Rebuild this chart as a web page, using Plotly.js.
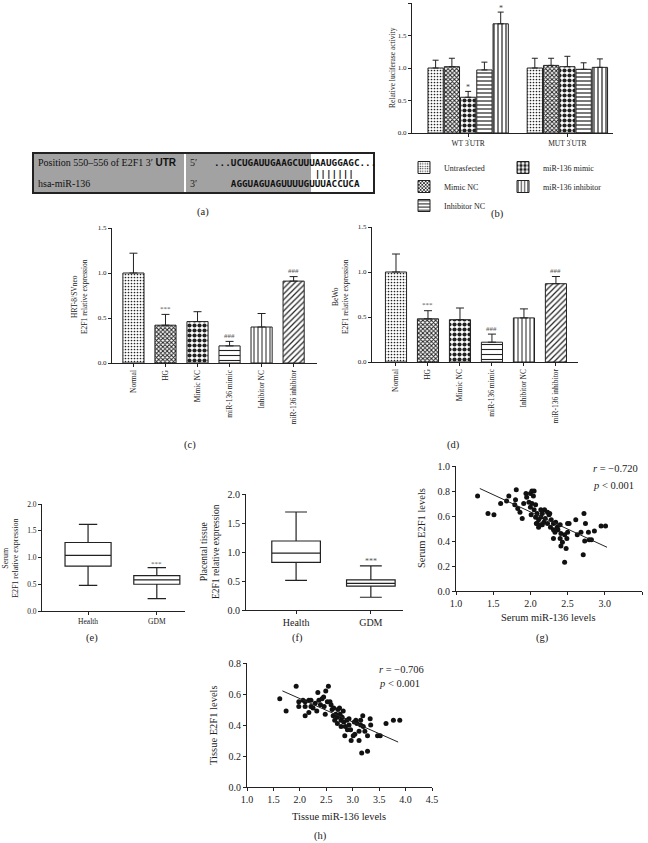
<!DOCTYPE html>
<html><head><meta charset="utf-8">
<script src="https://cdn.plot.ly/plotly-3.0.1.min.js"></script>
<style>html,body{margin:0;padding:0;background:#fff}</style>
</head><body><div id="chart" style="width:648px;height:843px"></div>
<script>
// ================= DATA =================
// (a) binding site
const utrLabel = "Position 550–556 of E2F1 3′ ";
const mirLabel = "hsa-miR-136";
const utrSeq = "UCUGAUUGAAGCUUUAAUGGAGC";
const mirSeq = "AGGUAGUAGUUUUGUUUACCUCA";
const seedPairs = 7;

// (b) luciferase
const groupsB = ["WT 3<sup>′</sup>UTR", "MUT 3<sup>′</sup>UTR"];
const seriesB = ["Untrasfected", "Mimic NC", "miR-136 mimic", "Inhibitor NC", "miR-136 inhibitor"];
const untrasfected = [1.00, 1.00];
const mimicNC = [1.02, 1.04];
const mimic136 = [0.55, 1.02];
const inhibitorNC = [0.97, 0.98];
const inhibitor136 = [1.68, 1.01];
const untrasfectedSD = [0.12, 0.15];
const mimicNCSD = [0.13, 0.11];
const mimic136SD = [0.09, 0.16];
const inhibitorNCSD = [0.12, 0.10];
const inhibitor136SD = [0.18, 0.13];
const sigB = [["", ""], ["", ""], ["*", ""], ["", ""], ["*", ""]];

// (c) HTR-8/SVneo and (d) BeWo
const catsCD = ["Normal", "HG", "Mimic NC", "miR-136 mimic", "Inhibitor NC", "miR-136 inhibitor"];
const htrValues = [1.00, 0.42, 0.46, 0.19, 0.40, 0.91];
const htrSD = [0.22, 0.12, 0.11, 0.05, 0.15, 0.05];
const bewoValues = [1.00, 0.48, 0.47, 0.22, 0.49, 0.87];
const bewoSD = [0.20, 0.09, 0.13, 0.09, 0.10, 0.08];
const sigCD = ["", "***", "", "###", "", "###"];

// (e) serum, (f) placental tissue box plots
const boxCats = ["Health", "GDM"];
const serumMin = [0.48, 0.23];
const serumQ1 = [0.84, 0.50];
const serumMedian = [1.04, 0.58];
const serumQ3 = [1.28, 0.66];
const serumMax = [1.62, 0.81];
const tissueMin = [0.51, 0.22];
const tissueQ1 = [0.82, 0.41];
const tissueMedian = [0.98, 0.46];
const tissueQ3 = [1.19, 0.52];
const tissueMax = [1.69, 0.76];
const sigBox = ["", "***"];

// (g) serum correlation
const serumMiR = [1.29,1.43,1.51,1.60,1.68,1.71,1.81,1.80,1.79,1.83,1.86,1.89,1.91,1.94,1.95,1.98,2.00,2.02,2.05,2.04,2.00,2.02,2.07,2.05,2.01,2.07,2.09,2.11,2.08,2.14,2.18,2.16,2.23,2.20,2.25,2.14,2.19,2.28,2.31,2.27,2.34,2.36,2.40,2.33,2.37,2.41,2.31,2.40,2.46,2.43,2.49,2.50,2.50,2.52,2.61,2.63,2.68,2.41,2.48,2.46,2.72,2.74,2.73,2.78,2.79,2.82,2.86,2.71,2.95,3.01,2.23,2.26,2.16,2.11,2.31,2.09,2.14];
const serumE2F1 = [0.76,0.62,0.61,0.70,0.72,0.76,0.81,0.73,0.69,0.66,0.63,0.58,0.70,0.78,0.75,0.71,0.78,0.80,0.80,0.76,0.67,0.70,0.69,0.65,0.61,0.59,0.62,0.57,0.54,0.59,0.55,0.53,0.54,0.58,0.61,0.65,0.65,0.57,0.54,0.51,0.55,0.51,0.53,0.47,0.49,0.46,0.42,0.42,0.45,0.39,0.42,0.47,0.54,0.54,0.57,0.45,0.47,0.36,0.34,0.23,0.62,0.54,0.40,0.47,0.41,0.41,0.48,0.29,0.52,0.52,0.63,0.62,0.62,0.51,0.49,0.54,0.53];
const serumFitX = [1.32, 3.03];
const serumFitY = [0.82, 0.35];
const serumStats = ["<i>r</i> = −0.720", "<i>p</i> &lt; 0.001"];

// (h) tissue correlation
const tissueMiR = [1.62,1.74,1.93,1.98,1.98,2.06,2.10,2.10,2.10,2.17,2.21,2.21,2.17,2.25,2.29,2.32,2.34,2.36,2.39,2.42,2.45,2.46,2.49,2.54,2.48,2.52,2.57,2.59,2.61,2.64,2.63,2.66,2.68,2.71,2.72,2.76,2.78,2.75,2.80,2.82,2.83,2.86,2.89,2.85,2.90,2.93,2.96,2.97,3.01,3.04,3.06,3.08,3.12,3.12,3.15,3.17,3.19,3.20,3.23,3.28,3.28,3.33,3.34,3.47,3.52,3.63,3.77,3.89,2.93,3.03,2.78,2.71,3.15];
const tissueE2F1 = [0.57,0.49,0.65,0.55,0.52,0.56,0.55,0.52,0.46,0.56,0.56,0.52,0.48,0.51,0.54,0.49,0.61,0.56,0.53,0.57,0.58,0.52,0.62,0.65,0.47,0.55,0.55,0.53,0.50,0.51,0.46,0.43,0.47,0.45,0.50,0.47,0.43,0.51,0.45,0.49,0.42,0.39,0.43,0.33,0.37,0.40,0.37,0.30,0.33,0.34,0.43,0.41,0.36,0.30,0.40,0.22,0.46,0.39,0.36,0.33,0.23,0.44,0.40,0.33,0.33,0.41,0.43,0.43,0.44,0.42,0.39,0.41,0.43];
const tissueFitX = [1.67, 3.86];
const tissueFitY = [0.62, 0.29];
const tissueStats = ["<i>r</i> = −0.706", "<i>p</i> &lt; 0.001"];

// ================= STYLE / LAYOUT HELPERS =================
const W = 648, H = 843;
const SERIF = '"Liberation Serif", "Times New Roman", serif';
const INK = '#222';
const fx = p => p / W;
const fy = p => 1 - p / H;
const xdom = (a, b) => [a / W, b / W];
const ydom = (top, bottom) => [1 - bottom / H, 1 - top / H];

function ax(extra, fs) {
  return Object.assign({
    showline: true, linecolor: INK, linewidth: 1, mirror: false,
    ticks: 'outside', ticklen: 3, tickwidth: 1, tickcolor: INK,
    showgrid: false, zeroline: false, fixedrange: true,
    tickfont: { family: SERIF, size: fs || 7, color: INK }
  }, extra);
}
const annotations = [];
const shapes = [];
function txt(x, y, text, o) {
  o = o || {};
  annotations.push(Object.assign({
    xref: 'paper', yref: 'paper', x: fx(x), y: fy(y), text: text, showarrow: false,
    xanchor: 'center', yanchor: 'middle',
    font: { family: SERIF, size: o.size || 10, color: o.color || INK }
  }, o.extra || {}));
}

// ================= TRACES =================
const traces = [];

// (b)
const dataB = [untrasfected, mimicNC, mimic136, inhibitorNC, inhibitor136];
const sdB = [untrasfectedSD, mimicNCSD, mimic136SD, inhibitorNCSD, inhibitor136SD];
const patB = [
  { shape: '.', size: 3, solidity: 0.25 },
  { shape: 'x', size: 3, solidity: 0.55 },
  { shape: '.', size: 5, solidity: 0.55 },
  { shape: '-', size: 4, solidity: 0.3 },
  { shape: '|', size: 4, solidity: 0.3 }
];
const legendOf = ['legend', 'legend', 'legend2', 'legend', 'legend2'];
const rankB = [1, 2, 1, 3, 2];
seriesB.forEach((name, i) => {
  traces.push({
    type: 'bar', name: name, x: groupsB, y: dataB[i], xaxis: 'x', yaxis: 'y',
    legend: legendOf[i], legendrank: rankB[i],
    marker: { color: 'white', line: { color: INK, width: 1 },
      pattern: Object.assign({ fgcolor: INK, bgcolor: 'white', fillmode: 'replace' }, patB[i]) },
    error_y: { type: 'data', symmetric: false, array: sdB[i], arrayminus: sdB[i].map(() => 0),
      color: INK, thickness: 1, width: 3 },
    hoverinfo: 'skip'
  });
});
const BARGAP_B = 0.18;
seriesB.forEach((name, i) => {
  const slot = (1 - BARGAP_B) / seriesB.length;
  const off = -(1 - BARGAP_B) / 2 + slot * (i + 0.5);
  sigB[i].forEach((s, g) => {
    if (!s) return;
    annotations.push({ xref: 'x', yref: 'y', x: g + off, y: dataB[i][g] + sdB[i][g] + 0.06,
      text: s, showarrow: false, font: { family: SERIF, size: 8, color: '#444' } });
  });
});

// (c), (d)
const patCD = {
  shape: ['.', 'x', '.', '-', '|', '/'],
  size: [3, 3, 5, 5, 4, 4],
  solidity: [0.25, 0.55, 0.55, 0.22, 0.25, 0.3],
  fgcolor: INK, bgcolor: 'white', fillmode: 'replace'
};
[[htrValues, htrSD, 'x2', 'y2'], [bewoValues, bewoSD, 'x3', 'y3']].forEach(([vals, sd, xa, ya]) => {
  traces.push({
    type: 'bar', x: catsCD, y: vals, xaxis: xa, yaxis: ya, width: 0.66, showlegend: false,
    marker: { color: 'white', line: { color: INK, width: 1 }, pattern: patCD },
    error_y: { type: 'data', symmetric: false, array: sd, arrayminus: sd.map(() => 0),
      color: INK, thickness: 1, width: 4 },
    hoverinfo: 'skip'
  });
  sigCD.forEach((s, i) => {
    if (!s) return;
    annotations.push({ xref: xa, yref: ya, x: i, y: vals[i] + sd[i] + 0.06, text: s,
      showarrow: false, font: { family: SERIF, size: 7, color: '#555' } });
  });
});

// (e), (f)
[[serumMin, serumQ1, serumMedian, serumQ3, serumMax, 'x4', 'y4', 0.67, 0.4],
 [tissueMin, tissueQ1, tissueMedian, tissueQ3, tissueMax, 'x5', 'y5', 0.65, 0.45]].forEach(
  ([mn, q1, md, q3, mx, xa, ya, w, ww]) => {
  traces.push({
    type: 'box', x: boxCats, lowerfence: mn, q1: q1, median: md, q3: q3, upperfence: mx,
    xaxis: xa, yaxis: ya, width: w, whiskerwidth: ww, boxpoints: false, showlegend: false,
    fillcolor: 'white', line: { color: INK, width: 1.2 }, hoverinfo: 'skip'
  });
  sigBox.forEach((s, i) => {
    if (!s) return;
    annotations.push({ xref: xa, yref: ya, x: i, y: mx[i] + 0.07, text: s, showarrow: false,
      font: { family: SERIF, size: xa === 'x4' ? 7 : 8, color: '#555' } });
  });
});

// (g), (h)
[[serumMiR, serumE2F1, serumFitX, serumFitY, 'x6', 'y6'],
 [tissueMiR, tissueE2F1, tissueFitX, tissueFitY, 'x7', 'y7']].forEach(([xs, ys, lx, ly, xa, ya]) => {
  traces.push({ type: 'scatter', mode: 'markers', x: xs, y: ys, xaxis: xa, yaxis: ya, showlegend: false,
    marker: { color: '#111', size: 5 }, hoverinfo: 'skip', cliponaxis: false });
  traces.push({ type: 'scatter', mode: 'lines', x: lx, y: ly, xaxis: xa, yaxis: ya, showlegend: false,
    line: { color: INK, width: 1 }, hoverinfo: 'skip' });
});

// ================= PANEL (a) =================
shapes.push({ type: 'rect', xref: 'paper', yref: 'paper', x0: fx(33), x1: fx(374), y0: fy(193), y1: fy(153),
  fillcolor: '#a2a2a2', line: { color: INK, width: 2 }, layer: 'below' });
shapes.push({ type: 'rect', xref: 'paper', yref: 'paper', x0: fx(311), x1: fx(373), y0: fy(192), y1: fy(154),
  fillcolor: 'white', line: { width: 0 }, layer: 'below' });
shapes.push({ type: 'line', xref: 'paper', yref: 'paper', x0: fx(185), x1: fx(185), y0: fy(192), y1: fy(154),
  line: { color: 'white', width: 2 } });
const NB = '\u00A0';
const MONO = '"DejaVu Sans Mono", "Liberation Mono", monospace';
const leadUTR = 15; // unpaired 3' UTR bases shown before the seed
const topRow = '...' + utrSeq + '...';
const botRow = NB.repeat(3 + leadUTR - (mirSeq.length - seedPairs - 1)) + mirSeq;
const pairRow = NB.repeat(3 + leadUTR) + '|'.repeat(seedPairs);
[[topRow, 162], [pairRow, 173], [botRow, 184]].forEach(([t, y]) => {
  annotations.push({ xref: 'paper', yref: 'paper', x: fx(212), y: fy(y), xanchor: 'left', yanchor: 'middle',
    text: '<b>' + t + '</b>', showarrow: false, font: { family: MONO, size: 9.3, color: '#111' } });
});
annotations.push({ xref: 'paper', yref: 'paper', x: fx(36), y: fy(162), xanchor: 'left', yanchor: 'middle',
  text: utrLabel + '<b><span style="font-family:Liberation Sans">UTR</span></b>', showarrow: false,
  font: { family: SERIF, size: 10, color: '#111' } });
annotations.push({ xref: 'paper', yref: 'paper', x: fx(36), y: fy(184), xanchor: 'left', yanchor: 'middle',
  text: mirLabel, showarrow: false, font: { family: SERIF, size: 10, color: '#111' } });
txt(193, 162, "5′", { size: 10 });
txt(193, 184, "3′", { size: 10 });

// ================= AXIS TITLES / LABELS =================
const rot = { extra: { textangle: -90 } };
txt(393, 68, 'Relative luciferase activity', Object.assign({ size: 7.5 }, rot));
txt(79, 297, 'HRT-8/SVneo<br>E2F1 relative expression', Object.assign({ size: 7.5 }, rot));
txt(340, 297, 'BeWo<br>E2F1 relative expression', Object.assign({ size: 7.5 }, rot));
txt(10, 558, 'Serum<br>E2F1 relative expression', Object.assign({ size: 8 }, rot));
txt(210, 552, 'Placental tissue<br>E2F1 relative expression', Object.assign({ size: 9.5 }, rot));
txt(421, 528, 'Serum E2F1 levels', Object.assign({ size: 10.5 }, rot));
txt(213, 725, 'Tissue E2F1 levels', Object.assign({ size: 10.5 }, rot));
txt(548, 617, 'Serum miR-136 levels', { size: 10.5 });
txt(339, 816, 'Tissue miR-136 levels', { size: 10.5 });
annotations.push({ xref: 'paper', yref: 'paper', x: fx(591), y: fy(468), xanchor: 'left', yanchor: 'middle',
  text: serumStats[0], showarrow: false, font: { family: SERIF, size: 10.5, color: INK } });
annotations.push({ xref: 'paper', yref: 'paper', x: fx(591), y: fy(485), xanchor: 'left', yanchor: 'middle',
  text: serumStats[1], showarrow: false, font: { family: SERIF, size: 10.5, color: INK } });
annotations.push({ xref: 'paper', yref: 'paper', x: fx(377), y: fy(669), xanchor: 'left', yanchor: 'middle',
  text: tissueStats[0], showarrow: false, font: { family: SERIF, size: 10.5, color: INK } });
annotations.push({ xref: 'paper', yref: 'paper', x: fx(377), y: fy(683), xanchor: 'left', yanchor: 'middle',
  text: tissueStats[1], showarrow: false, font: { family: SERIF, size: 10.5, color: INK } });
[['(a)', 203, 212], ['(b)', 497, 214], ['(c)', 190, 445], ['(d)', 453, 445],
 ['(e)', 92, 638], ['(f)', 297, 638], ['(g)', 542, 638], ['(h)', 320, 836]].forEach(([t, x, y]) => txt(x, y, t, { size: 10.5 }));

// ================= LAYOUT =================
const legendBase = { yanchor: 'top', xanchor: 'left', orientation: 'v', tracegroupgap: 0, itemwidth: 30,
  bgcolor: 'rgba(0,0,0,0)', borderwidth: 0, font: { family: SERIF, size: 8, color: INK }, traceorder: 'normal' };
const layout = {
  width: W, height: H, autosize: false,
  margin: { l: 0, r: 0, t: 0, b: 0, pad: 0 },
  paper_bgcolor: 'white', plot_bgcolor: 'rgba(0,0,0,0)',
  barmode: 'group', bargap: BARGAP_B, bargroupgap: 0.06,
  showlegend: true,
  legend: Object.assign({ x: fx(404), y: fy(153) }, legendBase),
  legend2: Object.assign({ x: fx(503), y: fy(153) }, legendBase),
  font: { family: SERIF, color: INK },
  xaxis: ax({ domain: xdom(412, 613), anchor: 'y', type: 'category', range: [-0.566, 1.46] }, 7.5),
  yaxis: ax({ domain: ydom(3, 133), anchor: 'x', range: [0, 2], dtick: 0.5, tickformat: '.1f' }),
  xaxis2: ax({ domain: xdom(112, 317), anchor: 'y2', type: 'category', range: [-0.67, 5.73], tickangle: -90 }, 7.5),
  yaxis2: ax({ domain: ydom(228, 363), anchor: 'x2', range: [0, 1.5], dtick: 0.5, tickformat: '.1f' }),
  xaxis3: ax({ domain: xdom(372, 578), anchor: 'y3', type: 'category', range: [-0.75, 5.69], tickangle: -90 }, 7.5),
  yaxis3: ax({ domain: ydom(227, 362), anchor: 'x3', range: [0, 1.5], dtick: 0.5, tickformat: '.1f' }),
  xaxis4: ax({ domain: xdom(42, 185), anchor: 'y4', type: 'category', range: [-0.67, 1.41] }, 7.5),
  yaxis4: ax({ domain: ydom(504, 611), anchor: 'x4', range: [0, 2], dtick: 0.5, tickformat: '.1f' }, 7.5),
  xaxis5: ax({ domain: xdom(246, 403), anchor: 'y5', type: 'category', range: [-0.67, 1.43] }, 10),
  yaxis5: ax({ domain: ydom(494, 610), anchor: 'x5', range: [0, 2], dtick: 0.5, tickformat: '.1f' }, 10),
  xaxis6: ax({ domain: xdom(456, 642), anchor: 'y6', range: [1, 3.5], dtick: 0.5, tickformat: '.1f' }, 10),
  yaxis6: ax({ domain: ydom(466, 591), anchor: 'x6', range: [0, 1], dtick: 0.2, tickformat: '.1f' }, 10),
  xaxis7: ax({ domain: xdom(247, 432), anchor: 'y7', range: [1, 4.5], dtick: 0.5, tickformat: '.1f' }, 10),
  yaxis7: ax({ domain: ydom(663, 787), anchor: 'x7', range: [0, 0.8], dtick: 0.2, tickformat: '.1f' }, 10),
  annotations: annotations,
  shapes: shapes
};

Plotly.newPlot('chart', traces, layout, { staticPlot: true, displayModeBar: false });
</script>
</body></html>
